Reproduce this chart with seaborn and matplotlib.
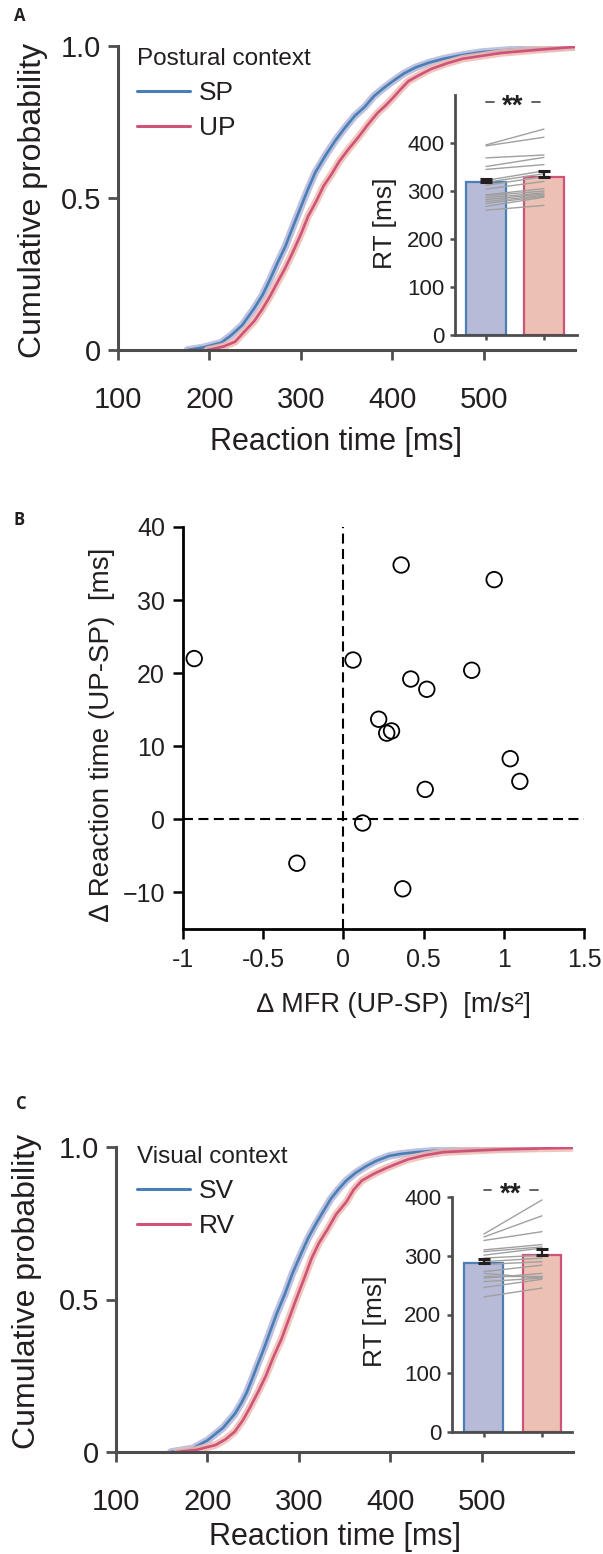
import numpy as np
import pandas as pd
import seaborn as sns
import matplotlib.pyplot as plt
from matplotlib.lines import Line2D
from matplotlib.transforms import offset_copy

sns.set_theme(style="white")
plt.rcParams['font.family'] = ['Liberation Sans', 'DejaVu Sans']

W, H = 603, 1554

# ---------------- data ----------------
# panel A: cumulative RT distributions
sp_rt = [176, 194, 213, 224, 236, 249, 258, 266, 275, 283, 292, 300, 308, 316, 327, 338, 348, 359,
         370, 380, 390, 401, 413, 426, 440, 456, 476, 498, 540, 600]
sp_cdf = [0, 0.009, 0.024, 0.049, 0.082, 0.137, 0.18, 0.23, 0.29, 0.34, 0.41, 0.47, 0.53, 0.585,
          0.64, 0.69, 0.73, 0.77, 0.80, 0.835, 0.86, 0.885, 0.91, 0.93, 0.945, 0.958, 0.97, 0.98,
          0.99, 0.997]
up_rt = [198, 215, 228, 240, 249, 257, 266, 274, 283, 291, 300, 308, 317, 325, 334, 342, 352, 363,
         373, 384, 393, 401, 410, 418, 430, 443, 460, 477, 519, 561, 600]
up_cdf = [0, 0.011, 0.027, 0.066, 0.095, 0.13, 0.175, 0.22, 0.27, 0.32, 0.38, 0.44, 0.49, 0.54,
          0.58, 0.62, 0.66, 0.70, 0.74, 0.78, 0.805, 0.83, 0.86, 0.885, 0.905, 0.925, 0.943,
          0.958, 0.977, 0.988, 0.997]

# panel A inset: mean RT, SEM and per-subject RT
postural_cond = ['SP', 'UP']
postural_mean = [318, 330]
postural_sem = [8, 11]
sp_subj = [396, 394, 369, 351, 345, 322, 318, 312, 304, 292, 290, 286, 282, 278, 274, 268, 260]
up_subj = [429, 412, 375, 370, 355, 342, 336, 330, 320, 305, 300, 296, 294, 291, 289, 287, 270]

# panel B: MFR difference vs RT difference
d_mfr = [-0.93, 0.36, 0.94, 0.06, 0.80, 0.42, 0.52, 0.22, 0.27, 0.30, 1.04, 1.10, 0.51, 0.12, -0.29, 0.37]
d_rt = [22.0, 34.8, 32.8, 21.8, 20.4, 19.2, 17.8, 13.7, 11.8, 12.1, 8.3, 5.2, 4.1, -0.5, -6.0, -9.5]

# panel C: cumulative RT distributions
sv_rt = [160, 184, 200, 217, 230, 237, 243, 249, 255, 262, 268, 276, 285, 293, 302, 310, 319, 327,
         335, 343, 352, 362, 373, 385, 399, 413, 428, 450, 479, 520, 559]
sv_cdf = [0, 0.012, 0.038, 0.079, 0.125, 0.16, 0.195, 0.24, 0.287, 0.34, 0.39, 0.455, 0.52, 0.585,
          0.647, 0.70, 0.75, 0.79, 0.83, 0.86, 0.89, 0.915, 0.936, 0.955, 0.971, 0.978, 0.983,
          0.988, 0.992, 0.995, 0.997]
rv_rt = [167, 188, 209, 220, 230, 239, 247, 256, 264, 272, 281, 289, 297, 306, 314, 322, 331, 341,
         352, 360, 369, 382, 395, 408, 420, 438, 458, 490, 521, 560, 599]
rv_cdf = [0, 0.007, 0.023, 0.042, 0.067, 0.105, 0.148, 0.20, 0.25, 0.31, 0.37, 0.435, 0.50, 0.57,
          0.635, 0.685, 0.728, 0.78, 0.82, 0.86, 0.89, 0.912, 0.93, 0.946, 0.96, 0.973, 0.983,
          0.988, 0.992, 0.995, 0.997]

# panel C inset
visual_cond = ['SV', 'RV']
visual_mean = [287, 302]
visual_sem = [7, 10]
sv_subj = [337, 332, 326, 310, 307, 301, 296, 290, 285, 273, 270, 266, 262, 256, 246, 230]
rv_subj = [395, 368, 341, 319, 315, 313, 301, 296, 290, 284, 262, 266, 270, 262, 260, 245]

# ---------------- styling ----------------
BLUE, PINK = '#4a7fb5', '#cf5279'
BLUE_BAND, PINK_BAND = '#b3b6da', '#efbcb2'
BLUE_FILL, PINK_FILL = '#b8bbd8', '#ecc0b3'
AX_COL = '#4d4d4d'
TXT = '#231f20'

fig = plt.figure(figsize=(W / 100, H / 100), dpi=100)


def px_axes(l, t, r, b):
    return fig.add_axes([l / W, 1 - b / H, (r - l) / W, (b - t) / H])


def style_axes(ax, color, lw, tick_len, fs, pad_x, pad_y):
    for s in ['top', 'right']:
        ax.spines[s].set_visible(False)
    for s in ['left', 'bottom']:
        ax.spines[s].set_color(color)
        ax.spines[s].set_linewidth(lw)
    ax.tick_params(axis='both', direction='out', length=tick_len, width=lw * 0.9,
                   color=color, labelsize=fs, labelcolor=TXT)
    ax.tick_params(axis='x', pad=pad_x, bottom=True)
    ax.tick_params(axis='y', pad=pad_y, left=True)
    ax.grid(False)
    ax.set_facecolor('none')


def cdf_panel(ax, rts, cdfs, colors, bands, labels, title, label_xy, legend_y):
    for x, y, c, b in zip(rts, cdfs, colors, bands):
        df = pd.DataFrame({'rt': x, 'p': y})
        sns.lineplot(data=df, x='rt', y='p', color=b, lw=5.5, alpha=0.85, sort=False, ax=ax)
        sns.lineplot(data=df, x='rt', y='p', color=c, lw=1.9, sort=False, ax=ax)
    ax.set_xlim(100, 600)
    ax.set_ylim(0, 1)
    ax.set_xticks([100, 200, 300, 400, 500])
    ax.set_yticks([0, 0.5, 1.0])
    ax.set_yticklabels(['0', '0.5', '1.0'])
    style_axes(ax, AX_COL, 2.2, 7, 21, 19, 5)
    ax.set_xlabel('Reaction time [ms]', fontsize=22, color=TXT)
    ax.set_ylabel('Cumulative probability', fontsize=23, color=TXT)
    ax.xaxis.label.set_va('center')
    ax.yaxis.label.set_va('center')
    ax.xaxis.set_label_coords(*label_xy[0])
    ax.yaxis.set_label_coords(*label_xy[1])
    handles = [Line2D([], [], color=c, lw=2.2) for c in colors]
    leg = ax.legend(handles, labels, title=title, loc='upper left', frameon=False,
                    bbox_to_anchor=(137 / W, 1 - legend_y / H), bbox_transform=fig.transFigure,
                    fontsize=19, title_fontsize=17.5, handlelength=2.0, handletextpad=0.35,
                    labelspacing=0.42, borderpad=0, borderaxespad=0, alignment='left')
    for t in leg.get_texts():
        t.set_color(TXT)
    leg.get_title().set_color(TXT)


def bar_inset(ax, conds, means, sems, subj_a, subj_b, fills, edges, ymax, yticks, width, xlim,
              star_y, label_xy):
    bar_df = pd.DataFrame({'cond': conds, 'rt': means})
    sns.barplot(data=bar_df, x='cond', y='rt', hue='cond', palette=fills, width=width,
                saturation=1, legend=False, ax=ax)
    for patch, ec in zip(ax.patches, edges):
        patch.set_edgecolor(ec)
        patch.set_linewidth(1.6)
    pos = {c: i for i, c in enumerate(conds)}
    pairs = pd.DataFrame({
        'subj': list(range(len(subj_a))) * 2,
        'x': [pos[conds[0]]] * len(subj_a) + [pos[conds[1]]] * len(subj_b),
        'rt': list(subj_a) + list(subj_b),
    })
    sns.lineplot(data=pairs, x='x', y='rt', units='subj', estimator=None, color='#a0a0a0',
                 lw=1.0, ax=ax)
    ax.errorbar([pos[c] for c in conds], means, yerr=[[0, 0], sems], fmt='none',
                ecolor='#231f20', elinewidth=1.6, capsize=4.3, capthick=2.2, zorder=5)
    ax.set_xlim(*xlim)
    ax.set_ylim(0, ymax)
    ax.set_yticks(yticks)
    ax.set_xticks([0, 1])
    ax.set_xticklabels([])
    style_axes(ax, AX_COL, 2.0, 3.6, 16, 2, 4)
    ax.set_xlabel('')
    ax.set_ylabel('RT [ms]', fontsize=19, color=TXT)
    ax.yaxis.label.set_va('center')
    ax.yaxis.set_label_coords(*label_xy)
    ax.plot([0.0, 0.13], [star_y, star_y], color='#555555', lw=1.3, clip_on=False)
    ax.plot([0.79, 0.93], [star_y, star_y], color='#555555', lw=1.3, clip_on=False)
    tr = offset_copy(ax.transData, fig=fig, x=0, y=-3.5, units='points')
    ax.text(0.46, star_y, '**', ha='center', va='center', fontsize=20, fontweight='bold',
            color=TXT, transform=tr, clip_on=False)


# ---------------- panel A ----------------
axA = px_axes(118, 46, 575, 350)
cdf_panel(axA, [sp_rt, up_rt], [sp_cdf, up_cdf], [BLUE, PINK], [BLUE_BAND, PINK_BAND],
          ['SP', 'UP'], 'Postural context',
          [((336 - 118) / 457, (350 - 442) / 304), ((33 - 118) / 457, 0.493)], 48)

axAi = px_axes(455, 95, 577, 335)
bar_inset(axAi, postural_cond, postural_mean, postural_sem, sp_subj, up_subj,
          [BLUE_FILL, PINK_FILL], [BLUE, PINK], 500, [0, 100, 200, 300, 400], 0.69,
          (-0.534, 1.57), 485, ((385 - 455) / 122, 0.467))

# ---------------- panel B ----------------
axB = px_axes(183, 527, 584, 929)
axB.axhline(0, color='black', lw=1.5, ls=(0, (4.8, 2.6)), zorder=1)
axB.axvline(0, color='black', lw=1.5, ls=(0, (4.8, 2.6)), zorder=1)
sns.scatterplot(x=d_mfr, y=d_rt, s=125, ax=axB, zorder=3)
pts = axB.collections[-1]
pts.set_facecolor('none')
pts.set_edgecolor('black')
pts.set_linewidth(1.3)
axB.set_xlim(-1, 1.5)
axB.set_ylim(-15, 40)
axB.set_xticks([-1, -0.5, 0, 0.5, 1, 1.5])
axB.set_xticklabels(['-1', '-0.5', '0', '0.5', '1', '1.5'])
axB.set_yticks([-10, 0, 10, 20, 30, 40])
style_axes(axB, 'black', 2.0, 7, 18, 7, 6)
axB.set_xlabel('\u2206 MFR (UP-SP)  [m/s\u00b2]', fontsize=19.5, color=TXT)
axB.set_ylabel('\u2206 Reaction time (UP-SP)  [ms]', fontsize=20, color=TXT)
axB.xaxis.label.set_va('center')
axB.yaxis.label.set_va('center')
axB.xaxis.set_label_coords((394 - 183) / 401, (929 - 1005) / 402)
axB.yaxis.set_label_coords((102 - 183) / 401, 0.484)

# ---------------- panel C ----------------
axC = px_axes(116, 1147, 573, 1452)
cdf_panel(axC, [sv_rt, rv_rt], [sv_cdf, rv_cdf], [BLUE, PINK], [BLUE_BAND, PINK_BAND],
          ['SV', 'RV'], 'Visual context',
          [((335 - 116) / 457, (1452 - 1537) / 305), ((27 - 116) / 457, 0.525)], 1146)

axCi = px_axes(452, 1197, 572, 1432)
bar_inset(axCi, visual_cond, visual_mean, visual_sem, sv_subj, rv_subj,
          [BLUE_FILL, PINK_FILL], [BLUE, PINK], 400, [0, 100, 200, 300, 400], 0.67,
          (-0.55, 1.517), 412, ((375 - 452) / 120, 0.472))

# panel letters
for letter, (x, y) in zip('ABC', [(20, 16), (19, 520), (21, 1104)]):
    fig.text(x / W, 1 - y / H, letter, fontsize=12, fontweight='bold', color=TXT,
             ha='center', va='center', family=['Open Sans', 'DejaVu Sans'])

fig.savefig('out.png', dpi=100)
